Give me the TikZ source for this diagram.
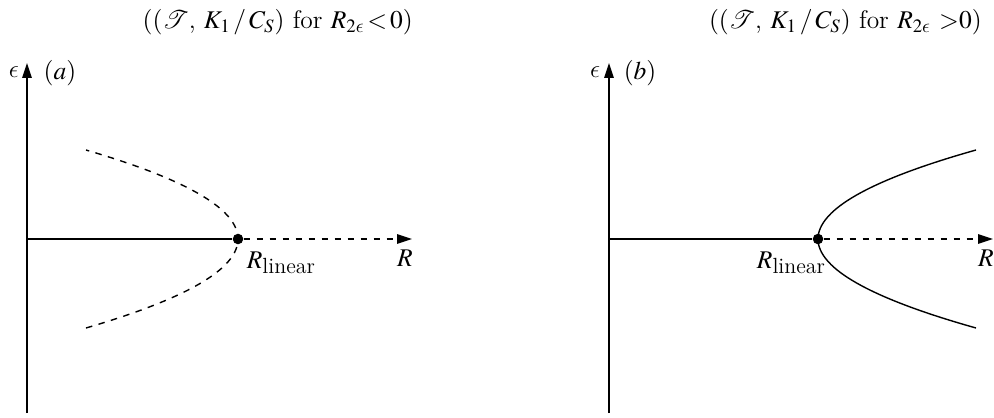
\documentclass[tikz,border=0pt]{standalone}
\usepackage{mathptmx}
\usepackage{mathrsfs}
\usetikzlibrary{arrows.meta}

% Lunate epsilon from Computer Modern
\DeclareSymbolFont{cmletters}{OML}{cmm}{m}{it}
\DeclareMathSymbol{\lunateps}{\mathord}{cmletters}{"0F}
\newcommand{\Rlin}{$R$\raisebox{-0.45ex}{\fontsize{12.5pt}{14pt}\selectfont linear}}

\tikzset{
  axis/.style={line width=0.8pt, -{Triangle[length=8.5pt,width=5.4pt]}},
  branch/.style={line width=0.8pt},
  unstable/.style={line width=0.8pt, dash pattern=on 3.7pt off 3.7pt},
  bifpoint/.style={circle, fill=black, inner sep=0pt, minimum size=6pt},
  lbl/.style={font=\fontsize{14.5pt}{17pt}\selectfont, inner sep=0pt}
}

\begin{document}
\begin{tikzpicture}[x=0.02cm, y=0.02cm]
    % Fix the page size
    \useasboundingbox (0,0) rectangle (994,417);

    % Define parabola size
    \def\halfWidth{89}

    % ---------- panel (a) ----------
    \coordinate (Oa) at (27,178);
    \coordinate (Ba) at (27,4);
    \coordinate (Ta) at (27,354);
    \coordinate (Ea) at (412,178);
    \node[bifpoint] (Pa) at (238,178) {};

    % Draw axes
    \draw[axis] (Ba) -- (Ta);
    \draw[branch] (Oa) -- (Pa);
    \draw[unstable, -{Triangle[length=8.5pt,width=5.4pt]}] (Pa) -- (Ea);

    % Draw subcritical branch
    \draw[unstable] plot[domain=-\halfWidth:\halfWidth, samples=60, smooth]
        ({238-152*(\x/\halfWidth)^2}, {178+\x});

    % Labels
    \node[lbl, anchor=east] (titleA) at (413,395) {$((\mathscr{T}$, $K_1\,/\,C_S)$ for $R_{2\lunateps}\,{<}\,0)$};
    \node[lbl] (epsA) at (14,345) {$\lunateps$};
    \node[lbl] (tagA) at (60,344) {$(a)$};
    \node[lbl] (linA) at (281,154) {\Rlin};
    \node[lbl] (RA) at (405,159) {$R$};

    % ---------- panel (b) ----------
    \coordinate (Ob) at (609,178);
    \coordinate (Bb) at (609,4);
    \coordinate (Tb) at (609,354);
    \coordinate (Eb) at (993,178);
    \node[bifpoint] (Pb) at (818,178) {};

    % Draw axes
    \draw[axis] (Bb) -- (Tb);
    \draw[branch] (Ob) -- (Pb);
    \draw[unstable, -{Triangle[length=8.5pt,width=5.4pt]}] (Pb) -- (Eb);

    % Draw supercritical branch
    \draw[branch] plot[domain=-\halfWidth:\halfWidth, samples=60, smooth]
        ({818+158*(\x/\halfWidth)^2}, {178+\x});

    % Labels
    \node[lbl, anchor=east] (titleB) at (982,395) {$((\mathscr{T}$, $K_1\,/\,C_S)$ for $R_{2\lunateps}$ ${>}0)$};
    \node[lbl] (epsB) at (595,345) {$\lunateps$};
    \node[lbl] (tagB) at (640,344) {$(b)$};
    \node[lbl] (linB) at (791,154) {\Rlin};
    \node[lbl] (RB) at (986,159) {$R$};
\end{tikzpicture}
\end{document}
